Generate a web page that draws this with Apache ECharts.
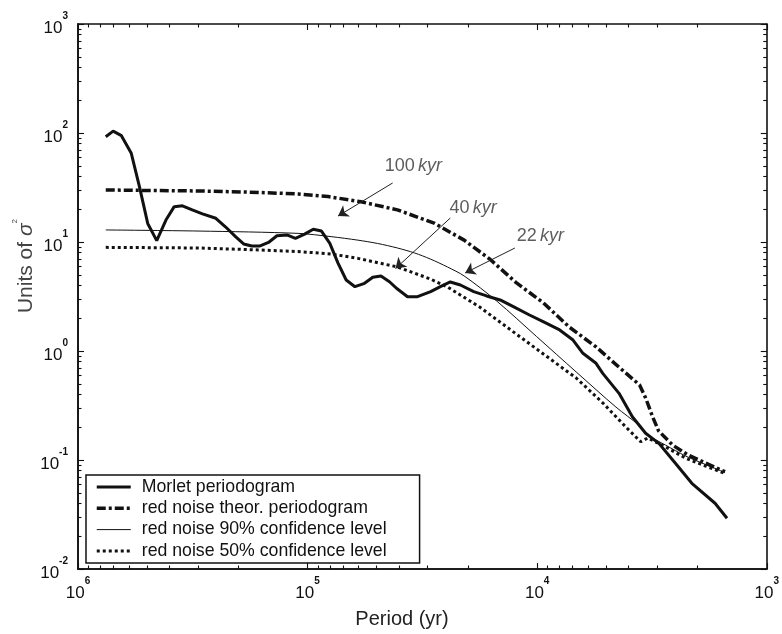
<!DOCTYPE html>
<html>
<head>
<meta charset="utf-8">
<script src="https://cdn.jsdelivr.net/npm/echarts@6/dist/echarts.min.js"></script>
<style>
  html, body { margin: 0; padding: 0; background: #fff; }
  #chart { width: 782px; height: 634px; }
</style>
</head>
<body>
<div id="chart"></div>
<script>
// ---- Data: period (yr) and power (units of sigma^2) ----
const morletPeriod = [757000, 703000, 647000, 586000, 540000, 497000, 454000, 414000, 381000, 351000,
  318000, 287000, 251000, 228000, 206000, 190000, 175000, 161000, 148000, 136000,
  123000, 113000, 103000, 94500, 87000, 80000, 73700, 67900, 62200, 56500,
  52000, 47900, 44000, 40600, 36700, 33200, 29100, 26400, 23900, 21600,
  18900, 16600, 14500, 12700, 10800, 9420, 7980, 6980, 6320, 5540,
  5180, 4400, 3850, 3370, 2950, 2500, 2120, 1680, 1490];
const morletPower = [92.5, 104, 94.5, 65.1, 32.2, 14.8, 10.3, 15.9, 21.1, 21.5,
  19.7, 18.1, 16.5, 13.8, 11.2, 9.6, 9.2, 9.2, 9.9, 11.4,
  11.6, 10.8, 11.8, 13.1, 12.6, 9.7, 6.4, 4.48, 3.89, 4.18,
  4.75, 4.88, 4.32, 3.70, 3.15, 3.15, 3.50, 3.89, 4.30, 4.03,
  3.50, 3.20, 2.94, 2.55, 2.14, 1.86, 1.56, 1.26, 0.953, 0.771,
  0.624, 0.409, 0.249, 0.176, 0.142, 0.0933, 0.0611, 0.0401, 0.0292];

const theorPeriod = [757000, 489000, 297000, 181000, 110000, 81400, 58600, 40600, 28100, 20800,
  16100, 12300, 9390, 7250, 5540, 4410, 3580, 3370, 3140, 2960, 2570, 2200, 1850, 1520];
const theorPower = [30.0, 29.7, 29.4, 28.7, 27.6, 26.1, 23.4, 19.7, 14.9, 10.4,
  6.98, 4.21, 2.76, 1.66, 1.09, 0.713, 0.488, 0.371, 0.248, 0.185, 0.137, 0.111, 0.0938, 0.0781];

const conf90Period = [757000, 297000, 110000, 79000, 60400, 49500, 40600, 34200, 29200, 24600,
  20800, 15000, 10070, 6760, 4540, 3610, 3300, 2760, 2260, 1850, 1520];
const conf90Power = [12.9, 12.6, 12.0, 11.2, 10.4, 9.69, 8.81, 7.93, 6.98, 5.90,
  4.88, 2.87, 1.36, 0.642, 0.306, 0.209, 0.170, 0.137, 0.109, 0.091, 0.0768];

const conf50Period = [757000, 297000, 163000, 110000, 79000, 60400, 40600, 29200, 24600, 17800,
  13200, 9390, 6760, 5170, 4110, 3540, 3300, 2760, 2260, 1850, 1520];
const conf50Power = [8.93, 8.81, 8.45, 8.18, 7.76, 7.08, 5.90, 4.58, 3.87, 2.53,
  1.59, 0.938, 0.565, 0.333, 0.201, 0.147, 0.159, 0.132, 0.104, 0.0881, 0.0752];

const seriesNames = ['Morlet periodogram', 'red noise theor. periodogram',
  'red noise 90% confidence level', 'red noise 50% confidence level'];

// Annotated periodicities: text, label anchor, arrow start and arrow tip
const noteText = ['100', '40', '22'];
const noteLabelPos = [[34600, 49.3], [19000, 20.7], [9680, 11.35]];
const noteArrowFrom = [[42600, 34.8], [23900, 16.6], [12500, 8.81]];
const noteArrowTo = [[73700, 17.3], [41400, 5.71], [20600, 5.20]];

// Axis ranges (as decade exponents) and tick label exponents
const xExpRange = [3, 6];
const yExpRange = [-2, 3];
const xTickExponents = [3, 4, 5, 6];
const yTickExponents = [-2, -1, 0, 1, 2, 3];

const FONT = '"Liberation Sans", Arial, Helvetica, sans-serif';
const INK = '#111';

const pairs = (xs, ys) => xs.map((x, i) => [x, ys[i]]);
// positions of the 2..9 sub-ticks inside each decade, in log10 units
function minorExps(exps) {
  const out = [];
  for (let k = 0; k < exps.length - 1; k++) {
    for (let m = 2; m <= 9; m++) out.push(exps[k] + Math.log10(m));
  }
  return out;
}

const powerLabel = {
  formatter: v => '{b|10}{s|' + Math.round(Math.log10(v)) + '}',
  rich: {
    b: { fontSize: 17, lineHeight: 26, fontFamily: FONT, color: INK, verticalAlign: 'bottom' },
    s: { fontSize: 10, lineHeight: 10, fontFamily: FONT, fontWeight: 'bold', color: INK, verticalAlign: 'top' }
  }
};

// data axis: logarithmic, carries the series and the decade labels
function dataAxis(dim) {
  const r = dim === 'x' ? xExpRange : yExpRange;
  return {
    type: 'log', logBase: 10,
    min: Math.pow(10, r[0]), max: Math.pow(10, r[1]),
    inverse: dim === 'x',
    position: dim === 'x' ? 'bottom' : 'left',
    splitLine: { show: false },
    axisLine: { show: true, onZero: false, lineStyle: { color: INK, width: 1.6 } },
    axisTick: { show: false },
    axisLabel: Object.assign({ show: true, margin: dim === 'x' ? 7 : 10, hideOverlap: false }, powerLabel)
  };
}

// tick-only axis laid over the frame, in log10 units
function tickAxis(dim, position, major) {
  const r = dim === 'x' ? xExpRange : yExpRange;
  const exps = dim === 'x' ? xTickExponents : yTickExponents;
  return {
    type: 'value',
    min: r[0], max: r[1],
    inverse: dim === 'x',
    position: position,
    splitLine: { show: false },
    axisLine: { show: major, onZero: false, lineStyle: { color: INK, width: 1.6 } },
    axisTick: {
      show: true, inside: true, length: major ? 6 : 3.5,
      lineStyle: { color: INK, width: 1.1 },
      customValues: major ? exps : minorExps(exps)
    },
    axisLabel: { show: false }
  };
}

const chart = echarts.init(document.getElementById('chart'), null, { renderer: 'canvas' });

const lineBase = { type: 'line', symbol: 'none', showSymbol: false, xAxisIndex: 0, yAxisIndex: 0, z: 3 };

chart.setOption({
  animation: false,
  backgroundColor: '#fff',
  grid: { left: 78, right: 10, top: 24, bottom: 65, containLabel: false },
  xAxis: [
    dataAxis('x'),
    tickAxis('x', 'bottom', true),
    tickAxis('x', 'bottom', false),
    tickAxis('x', 'top', true),
    tickAxis('x', 'top', false)
  ],
  yAxis: [
    dataAxis('y'),
    tickAxis('y', 'left', true),
    tickAxis('y', 'left', false),
    tickAxis('y', 'right', true),
    tickAxis('y', 'right', false)
  ],
  legend: {
    data: seriesNames,
    orient: 'vertical',
    left: 86,
    top: 475,
    padding: [3, 33, 3, 9],
    itemWidth: 34,
    itemHeight: 14,
    itemGap: 3.3,
    borderColor: INK,
    borderWidth: 1.5,
    backgroundColor: '#fff',
    selectedMode: false,
    itemStyle: { opacity: 0, color: 'rgba(0,0,0,0)', borderWidth: 0 },
    lineStyle: { width: 'inherit' },
    textStyle: { fontSize: 17.7, lineHeight: 18, color: INK, fontFamily: FONT, padding: [0, 0, 0, 6] }
  },
  graphic: [
    {
      type: 'text', x: 402, y: 619,
      style: { text: 'Period (yr)', font: '20px ' + FONT, fill: '#222', align: 'center', verticalAlign: 'middle' }
    },
    {
      type: 'text', x: 24, y: 266, rotation: Math.PI / 2,
      style: {
        text: '{t|Units of }{g|σ}{s|2}',
        align: 'center', verticalAlign: 'middle',
        rich: {
          t: { fontSize: 21, fontFamily: FONT, fill: '#444', lineHeight: 26, verticalAlign: 'bottom' },
          g: { fontSize: 21, fontFamily: FONT, fontStyle: 'italic', fill: '#444', lineHeight: 26, verticalAlign: 'bottom' },
          s: { fontSize: 8, fontFamily: FONT, fill: '#444', lineHeight: 8, verticalAlign: 'top' }
        }
      }
    }
  ],
  series: [
    Object.assign({}, lineBase, {
      name: seriesNames[0], data: pairs(morletPeriod, morletPower), z: 5,
      lineStyle: { color: INK, width: 3, type: 'solid' }, itemStyle: { color: INK }
    }),
    Object.assign({}, lineBase, {
      name: seriesNames[1], data: pairs(theorPeriod, theorPower),
      lineStyle: { color: INK, width: 3.5, type: [9, 3, 3, 3] }, itemStyle: { color: INK }
    }),
    Object.assign({}, lineBase, {
      name: seriesNames[2], data: pairs(conf90Period, conf90Power), smooth: 0.3,
      lineStyle: { color: INK, width: 1, type: 'solid' }, itemStyle: { color: INK }
    }),
    Object.assign({}, lineBase, {
      name: seriesNames[3], data: pairs(conf50Period, conf50Power),
      lineStyle: { color: INK, width: 3, type: [3, 3] }, itemStyle: { color: INK }
    }),
    {
      type: 'scatter',
      name: 'notes',
      xAxisIndex: 0, yAxisIndex: 0,
      symbolSize: 0,
      silent: true,
      z: 6,
      data: noteLabelPos.map((p, i) => ({ value: p, name: noteText[i] })),
      label: {
        show: true,
        position: 'inside',
        formatter: p => '{n|' + p.name + '} {i|kyr}',
        rich: {
          n: { fontSize: 18, fontFamily: FONT, color: '#333' },
          i: { fontSize: 18, fontFamily: FONT, fontStyle: 'italic', color: '#333' }
        }
      },
      markLine: {
        silent: true,
        symbol: ['none', 'arrow'],
        symbolSize: 10,
        label: { show: false },
        lineStyle: { color: '#222', width: 1, type: 'solid' },
        data: noteArrowFrom.map((a, i) => [{ coord: a }, { coord: noteArrowTo[i] }])
      }
    }
  ]
});
</script>
</body>
</html>
